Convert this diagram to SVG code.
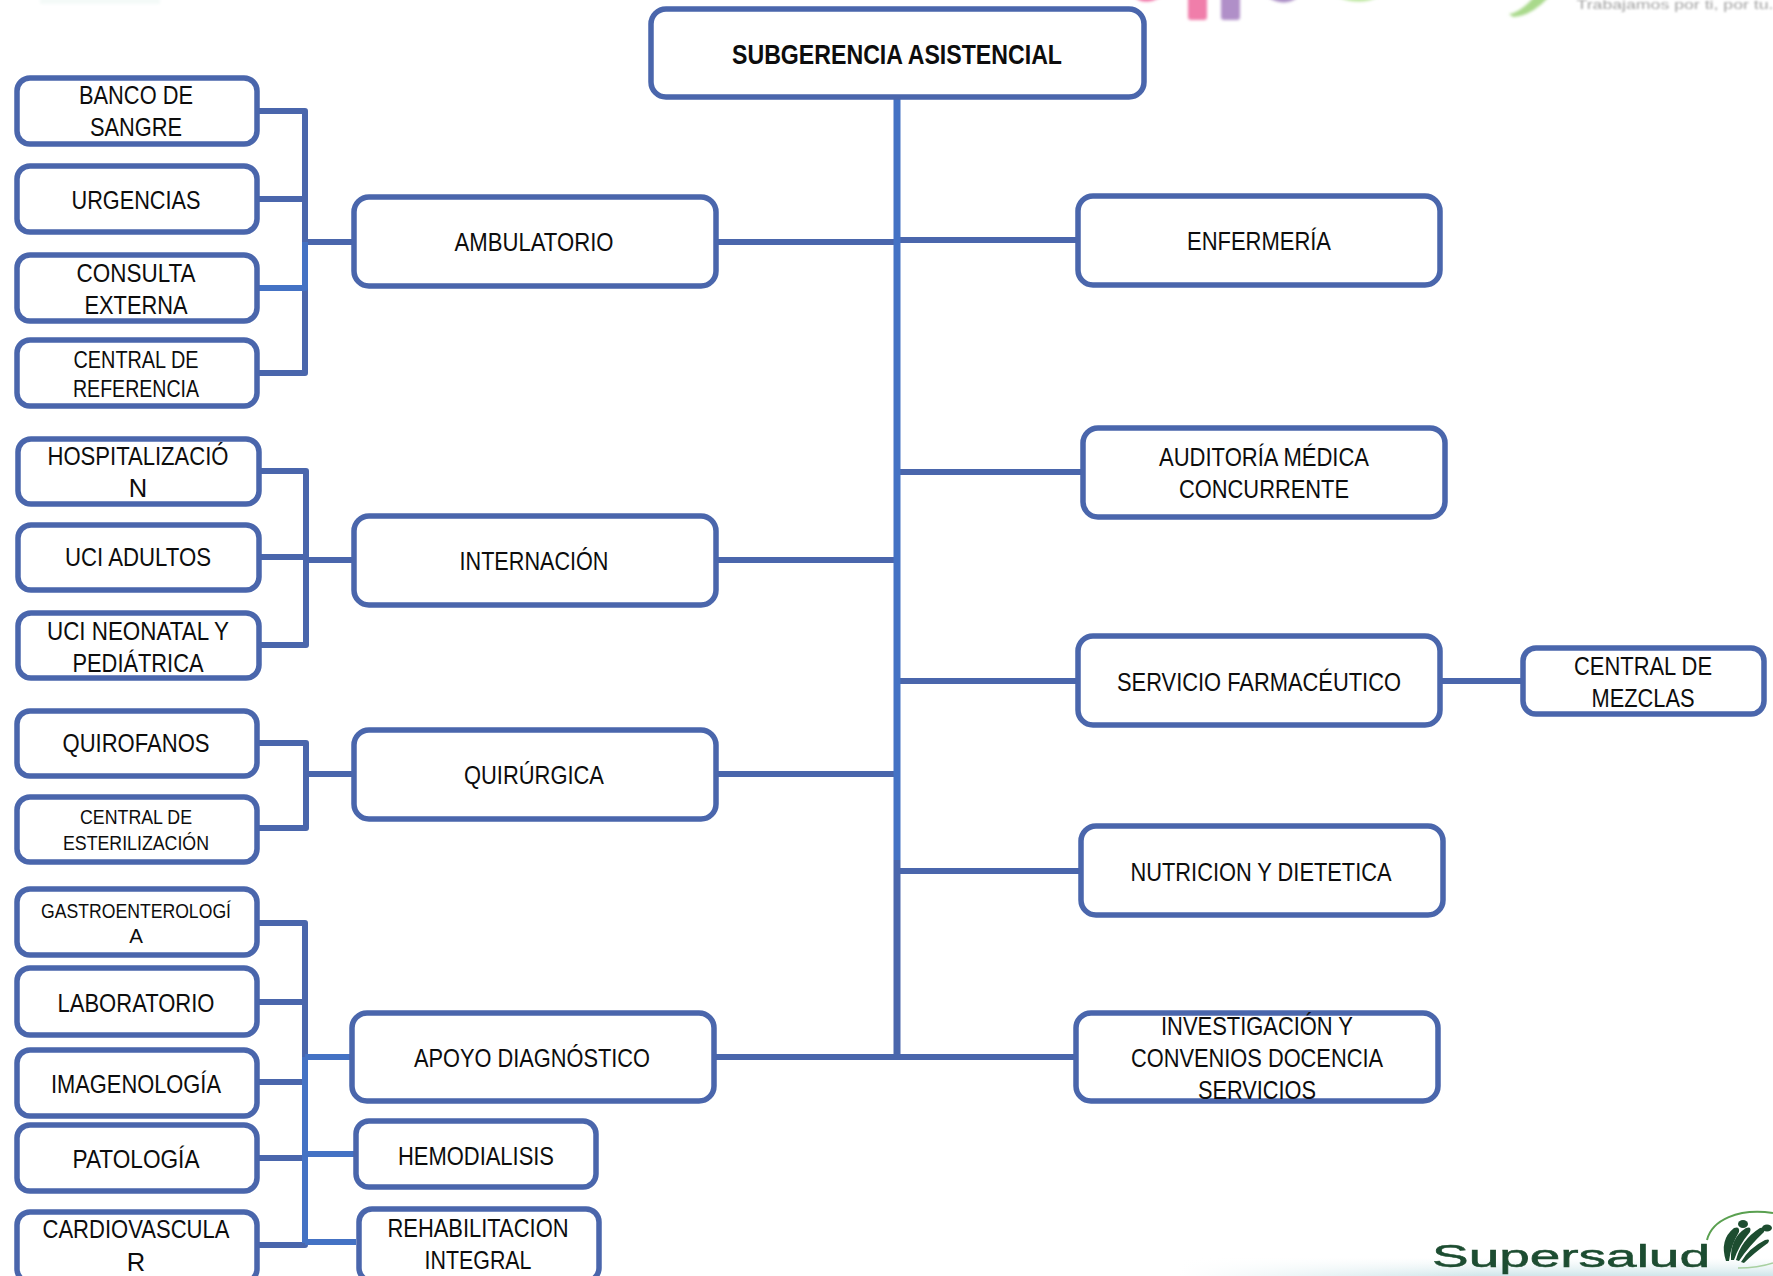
<svg xmlns="http://www.w3.org/2000/svg" width="1773" height="1276" viewBox="0 0 1773 1276">
<defs>
<style>
.n{fill:#fff;stroke:#4a66ac;stroke-width:5.5}
.c{fill:none;stroke:#4a66ac;stroke-width:6;stroke-linecap:butt;stroke-linejoin:round}
.b{stroke:#4472c4}
.m{stroke-width:7}
text{font-family:"Liberation Sans",Arial,sans-serif;fill:#0d0d0d;text-anchor:middle;font-size:25.5px}
.s{font-size:23px}
.x{font-size:20.5px}
.t{font-weight:bold;font-size:28px}
.leaf{fill:#1d4d30}
</style>
<linearGradient id="bot" x1="0" y1="0" x2="0" y2="1"><stop offset="0" stop-color="#e4f1f3" stop-opacity="0"/><stop offset="1" stop-color="#cfe6ea"/></linearGradient>
<linearGradient id="botx" x1="0" y1="0" x2="1" y2="0"><stop offset="0" stop-color="#fff" stop-opacity="1"/><stop offset="1" stop-color="#fff" stop-opacity="0"/></linearGradient>
<filter id="bl" x="-30%" y="-30%" width="160%" height="160%"><feGaussianBlur stdDeviation="1.6"/></filter>
<filter id="bl2" x="-5%" y="-50%" width="110%" height="200%"><feGaussianBlur stdDeviation="0.9"/></filter>
<filter id="bl3" x="-5%" y="-20%" width="110%" height="140%"><feGaussianBlur stdDeviation="0.4"/></filter>
</defs>
<rect width="1773" height="1276" fill="#fff"/>
<g id="background">
<rect x="1180" y="1258" width="593" height="18" fill="url(#bot)"/>
<rect x="1180" y="1258" width="300" height="18" fill="url(#botx)"/>
<rect x="40" y="-6" width="120" height="10" fill="#f4faf8" filter="url(#bl)"/>
<g filter="url(#bl)">
<path d="M1133 -4 Q1145 7 1162 -4Z" fill="#f06aa0"/>
<rect x="1188" y="-8" width="19" height="28" rx="3" fill="#f07eaa"/>
<rect x="1221" y="-8" width="19" height="28" rx="3" fill="#b08fc8"/>
<path d="M1266 -4 Q1285 9 1299 -4Z" fill="#a98cc4"/>
<path d="M1335 -4 Q1360 7 1380 -4Z" fill="#b9e59a"/>
<path d="M1509 14 Q1520 13 1535 -4 L1550 -4 Q1530 17 1513 17Z" fill="#a9d98b"/>
</g>
<text x="1675" y="9" style="font-size:13px;fill:#a3a3a3" textLength="197" lengthAdjust="spacingAndGlyphs" filter="url(#bl2)">Trabajamos por ti, por tu.</text>
</g>
<g id="logo">
<text x="1571" y="1267" style="font-size:31px;fill:#1d4d30;stroke:#1d4d30;stroke-width:0.5" textLength="278" lengthAdjust="spacingAndGlyphs" filter="url(#bl3)">Supersalud</text>
<path d="M1707 1240 C1712 1220 1738 1208 1773 1213" fill="none" stroke="#5aa050" stroke-width="2"/>
<path d="M1738 1268 Q1758 1268 1773 1263" fill="none" stroke="#a8d0a0" stroke-width="1.5"/>
<path class="leaf" d="M1726 1261 Q1719 1240 1734 1228 Q1740 1226 1739 1232 Q1731 1245 1729 1261Z"/>
<path class="leaf" d="M1731 1260 Q1730 1238 1746 1228 Q1752 1226 1750 1232 Q1739 1245 1734 1260Z"/>
<path class="leaf" d="M1736 1260 Q1741 1240 1760 1228 Q1766 1226 1764 1232 Q1749 1246 1739 1261Z"/>
<path class="leaf" d="M1741 1262 Q1749 1248 1765 1240 Q1771 1238 1768 1243 Q1754 1253 1744 1263Z"/>
<ellipse cx="1743" cy="1224" rx="5" ry="4" class="leaf"/>
<ellipse cx="1767" cy="1228" rx="5" ry="3.5" class="leaf"/>
</g>
<g id="connectors">
<path class="c" d="M717 242H897M1077 240H897M717 560H897M1082 472H897M717 774H897M1077 681H897M1080 871H897M715 1057H1075"/>
<path class="c b m" d="M897 98V860"/>
<path class="c m" d="M897 860V1059"/>
<path class="c" d="M1441 681H1522"/>
<path class="c" d="M259 111H305V373H259M259 199H305M305 242H353"/>
<path class="c b" d="M259 288H305V242"/>
<path class="c" d="M260 471H306V645H260M260 557H306M306 560H353"/>
<path class="c" d="M258 743H306V828H258M306 774H353"/>
<path class="c" d="M258 923H305V1245H258M258 1002H305M258 1082H305M258 1158H305"/>
<path class="c b" d="M305 1057V1243M305 1057H351M305 1154H354M305 1242H356"/>
</g>
<g id="n-subgerencia"><rect class="n" x="651" y="9" width="493" height="88" rx="15"/><text class="t" x="897" y="64" textLength="330" lengthAdjust="spacingAndGlyphs">SUBGERENCIA ASISTENCIAL</text></g>
<g id="n-banco"><rect class="n" x="17" y="78" width="240" height="66" rx="13"/><text x="136" y="104" textLength="114" lengthAdjust="spacingAndGlyphs">BANCO DE</text><text x="136" y="136" textLength="92" lengthAdjust="spacingAndGlyphs">SANGRE</text></g>
<g id="n-urgencias"><rect class="n" x="17" y="166" width="240" height="66" rx="13"/><text x="136" y="209" textLength="129" lengthAdjust="spacingAndGlyphs">URGENCIAS</text></g>
<g id="n-consulta"><rect class="n" x="17" y="255" width="240" height="66" rx="13"/><text x="136" y="282" textLength="119" lengthAdjust="spacingAndGlyphs">CONSULTA</text><text x="136" y="314" textLength="103" lengthAdjust="spacingAndGlyphs">EXTERNA</text></g>
<g id="n-referencia"><rect class="n" x="17" y="340" width="240" height="66" rx="13"/><text class="s" x="136" y="368" textLength="125" lengthAdjust="spacingAndGlyphs">CENTRAL DE</text><text class="s" x="136" y="397" textLength="126" lengthAdjust="spacingAndGlyphs">REFERENCIA</text></g>
<g id="n-hospitalizacion"><rect class="n" x="18" y="439" width="241" height="65" rx="13"/><text x="138" y="465" textLength="181" lengthAdjust="spacingAndGlyphs">HOSPITALIZACIÓ</text><text x="138" y="497">N</text></g>
<g id="n-uci-adultos"><rect class="n" x="18" y="525" width="241" height="65" rx="13"/><text x="138" y="566" textLength="146" lengthAdjust="spacingAndGlyphs">UCI ADULTOS</text></g>
<g id="n-uci-neonatal"><rect class="n" x="18" y="613" width="241" height="65" rx="13"/><text x="138" y="640" textLength="182" lengthAdjust="spacingAndGlyphs">UCI NEONATAL Y</text><text x="138" y="672" textLength="131" lengthAdjust="spacingAndGlyphs">PEDIÁTRICA</text></g>
<g id="n-quirofanos"><rect class="n" x="17" y="711" width="240" height="65" rx="13"/><text x="136" y="752" textLength="147" lengthAdjust="spacingAndGlyphs">QUIROFANOS</text></g>
<g id="n-esterilizacion"><rect class="n" x="17" y="797" width="240" height="65" rx="13"/><text class="x" x="136" y="824" textLength="112" lengthAdjust="spacingAndGlyphs">CENTRAL DE</text><text class="x" x="136" y="850" textLength="146" lengthAdjust="spacingAndGlyphs">ESTERILIZACIÓN</text></g>
<g id="n-gastro"><rect class="n" x="17" y="889" width="240" height="66" rx="13"/><text class="x" x="136" y="918" textLength="190" lengthAdjust="spacingAndGlyphs">GASTROENTEROLOGÍ</text><text class="x" x="136" y="943">A</text></g>
<g id="n-laboratorio"><rect class="n" x="17" y="968" width="240" height="67" rx="13"/><text x="136" y="1012" textLength="157" lengthAdjust="spacingAndGlyphs">LABORATORIO</text></g>
<g id="n-imagenologia"><rect class="n" x="17" y="1050" width="240" height="66" rx="13"/><text x="136" y="1093" textLength="170" lengthAdjust="spacingAndGlyphs">IMAGENOLOGÍA</text></g>
<g id="n-patologia"><rect class="n" x="17" y="1125" width="240" height="66" rx="13"/><text x="136" y="1168" textLength="127" lengthAdjust="spacingAndGlyphs">PATOLOGÍA</text></g>
<g id="n-cardiovascular"><rect class="n" x="17" y="1212" width="240" height="70" rx="13"/><text x="136" y="1238" textLength="187" lengthAdjust="spacingAndGlyphs">CARDIOVASCULA</text><text x="136" y="1271">R</text></g>
<g id="n-ambulatorio"><rect class="n" x="354" y="197" width="362" height="89" rx="15"/><text x="534" y="251" textLength="159" lengthAdjust="spacingAndGlyphs">AMBULATORIO</text></g>
<g id="n-internacion"><rect class="n" x="354" y="516" width="362" height="89" rx="15"/><text x="534" y="570" textLength="149" lengthAdjust="spacingAndGlyphs">INTERNACIÓN</text></g>
<g id="n-quirurgica"><rect class="n" x="354" y="730" width="362" height="89" rx="15"/><text x="534" y="784" textLength="140" lengthAdjust="spacingAndGlyphs">QUIRÚRGICA</text></g>
<g id="n-apoyo"><rect class="n" x="352" y="1013" width="362" height="88" rx="15"/><text x="532" y="1067" textLength="236" lengthAdjust="spacingAndGlyphs">APOYO DIAGNÓSTICO</text></g>
<g id="n-hemodialisis"><rect class="n" x="356" y="1121" width="240" height="66" rx="13"/><text x="476" y="1165" textLength="156" lengthAdjust="spacingAndGlyphs">HEMODIALISIS</text></g>
<g id="n-rehabilitacion"><rect class="n" x="359" y="1209" width="240" height="72" rx="13"/><text x="478" y="1237" textLength="181" lengthAdjust="spacingAndGlyphs">REHABILITACION</text><text x="478" y="1269" textLength="107" lengthAdjust="spacingAndGlyphs">INTEGRAL</text></g>
<g id="n-enfermeria"><rect class="n" x="1078" y="196" width="362" height="89" rx="15"/><text x="1259" y="250" textLength="144" lengthAdjust="spacingAndGlyphs">ENFERMERÍA</text></g>
<g id="n-auditoria"><rect class="n" x="1083" y="428" width="362" height="89" rx="15"/><text x="1264" y="466" textLength="210" lengthAdjust="spacingAndGlyphs">AUDITORÍA MÉDICA</text><text x="1264" y="498" textLength="170" lengthAdjust="spacingAndGlyphs">CONCURRENTE</text></g>
<g id="n-farmaceutico"><rect class="n" x="1078" y="636" width="362" height="89" rx="15"/><text x="1259" y="691" textLength="284" lengthAdjust="spacingAndGlyphs">SERVICIO FARMACÉUTICO</text></g>
<g id="n-mezclas"><rect class="n" x="1523" y="648" width="241" height="66" rx="13"/><text x="1643" y="675" textLength="138" lengthAdjust="spacingAndGlyphs">CENTRAL DE</text><text x="1643" y="707" textLength="103" lengthAdjust="spacingAndGlyphs">MEZCLAS</text></g>
<g id="n-nutricion"><rect class="n" x="1081" y="826" width="362" height="89" rx="15"/><text x="1261" y="881" textLength="261" lengthAdjust="spacingAndGlyphs">NUTRICION Y DIETETICA</text></g>
<g id="n-investigacion"><rect class="n" x="1076" y="1013" width="362" height="88" rx="15"/><text x="1257" y="1035" textLength="192" lengthAdjust="spacingAndGlyphs">INVESTIGACIÓN Y</text><text x="1257" y="1067" textLength="252" lengthAdjust="spacingAndGlyphs">CONVENIOS DOCENCIA</text><text x="1257" y="1099" textLength="118" lengthAdjust="spacingAndGlyphs">SERVICIOS</text></g>
</svg>
